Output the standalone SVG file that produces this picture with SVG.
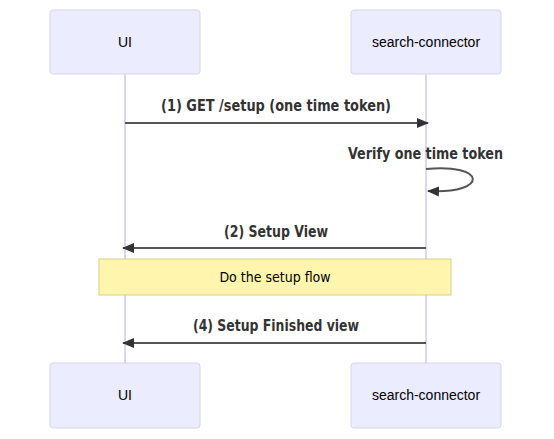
<svg xmlns="http://www.w3.org/2000/svg" width="554" height="439" viewBox="0 0 554 439">
<style>
.actor{fill:#ececff;stroke:#dad2f2;stroke-width:1}
.actor-text{font-family:"Liberation Sans",Arial,sans-serif;font-size:14px;fill:#000;text-anchor:middle}
.lifeline{stroke:#d0c8f0;stroke-width:1.5}
.msg{stroke:#555;stroke-width:2;fill:none}
.msg-text{font-family:"DejaVu Sans Condensed","DejaVu Sans",sans-serif;font-weight:bold;font-size:16px;fill:#333;text-anchor:middle}
.note{fill:#fff5ad;stroke:#d6d08a;stroke-width:1}
.note-text{font-family:"DejaVu Sans Condensed","DejaVu Sans",sans-serif;font-size:14px;fill:#000;text-anchor:middle}
</style>
<defs>
<marker id="arrow" viewBox="0 0 12 10" refX="11" refY="5" markerWidth="12" markerHeight="10" markerUnits="userSpaceOnUse" orient="auto">
<path d="M0,0 L12,5 L0,10 z" fill="#333"/>
</marker>
</defs>
<g id="lifelines">
<line class="lifeline" x1="125" y1="74" x2="125" y2="363"/>
<line class="lifeline" x1="426" y1="74" x2="426" y2="363"/>
</g>
<g id="actor-ui-top"><rect class="actor" x="50" y="10" width="150" height="64" rx="3"/><text class="actor-text" x="125" y="47">UI</text></g>
<g id="actor-sc-top"><rect class="actor" x="351" y="10" width="150" height="64" rx="3"/><text class="actor-text" x="426" y="47">search-connector</text></g>
<g id="note"><rect class="note" x="99" y="259" width="352" height="36"/><text class="note-text" x="275" y="282">Do the setup flow</text></g>
<g id="connectors">
<line class="msg" x1="125" y1="123" x2="428" y2="123" marker-end="url(#arrow)"/>
<text class="msg-text" x="276" y="111" textLength="230" lengthAdjust="spacingAndGlyphs">(1) GET /setup (one time token)</text>
<path class="msg" d="M426,169 C486,163 490,194 428,191" marker-end="url(#arrow)"/>
<text class="msg-text" x="425.5" y="159" textLength="155" lengthAdjust="spacingAndGlyphs">Verify one time token</text>
<line class="msg" x1="426" y1="248" x2="123" y2="248" marker-end="url(#arrow)"/>
<text class="msg-text" x="276" y="237" textLength="104" lengthAdjust="spacingAndGlyphs">(2) Setup View</text>
<line class="msg" x1="426" y1="343" x2="123" y2="343" marker-end="url(#arrow)"/>
<text class="msg-text" x="276" y="331" textLength="166" lengthAdjust="spacingAndGlyphs">(4) Setup Finished view</text>
</g>
<g id="actor-ui-bottom"><rect class="actor" x="50" y="363" width="150" height="65" rx="3"/><text class="actor-text" x="125" y="400">UI</text></g>
<g id="actor-sc-bottom"><rect class="actor" x="351" y="363" width="150" height="65" rx="3"/><text class="actor-text" x="426" y="400">search-connector</text></g>
</svg>
